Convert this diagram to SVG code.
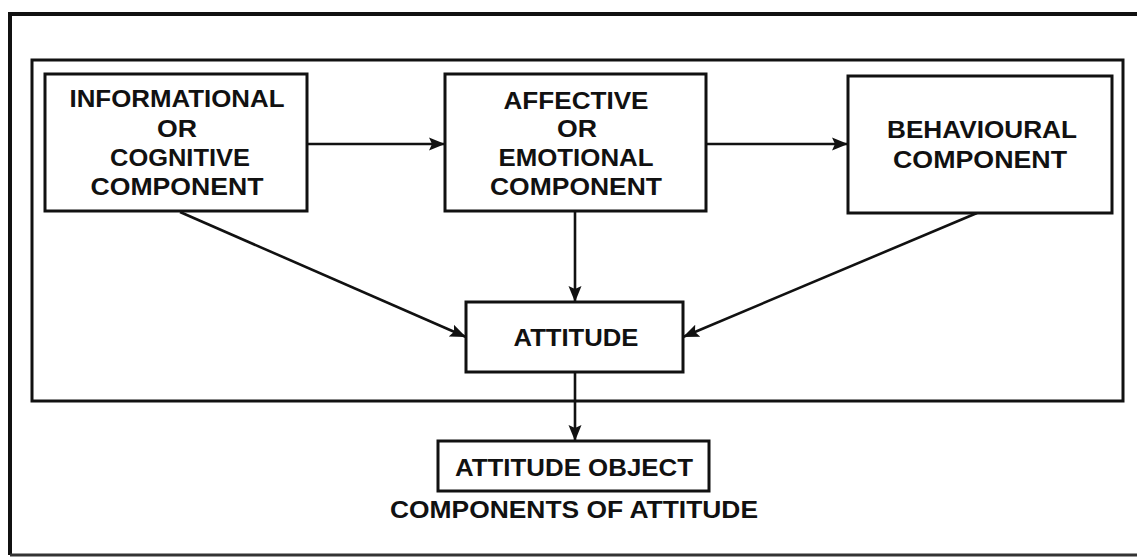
<svg xmlns="http://www.w3.org/2000/svg" width="1137" height="557" viewBox="0 0 1137 557">
<style>
.box{fill:#fff;stroke:#111;stroke-width:3}
.t{font-family:"Liberation Sans",Arial,sans-serif;font-weight:bold;font-size:23px;fill:#111;text-anchor:middle}
.c{stroke:#111;stroke-width:2.6;fill:none;marker-end:url(#ah)}
</style>
<defs>
<marker id="ah" markerUnits="userSpaceOnUse" markerWidth="18" markerHeight="16" refX="16" refY="8" orient="auto">
<path d="M0,1.5 L16,8 L0,14.5 L3,8 Z" fill="#111"/>
</marker>
</defs>
<rect x="0" y="0" width="1137" height="557" fill="#fff"/>
<g id="frame">
<path d="M1137,14 H10 V555" fill="none" stroke="#111" stroke-width="4"/>
<line x1="10" y1="555" x2="1137" y2="555" stroke="#333" stroke-width="3"/>
<rect x="32" y="60" width="1091" height="341" fill="none" stroke="#111" stroke-width="3"/>
</g>
<g id="connectors">
<line class="c" x1="307" y1="144" x2="445" y2="144"/>
<line class="c" x1="706" y1="144" x2="848" y2="144"/>
<line class="c" x1="575" y1="211" x2="575" y2="302"/>
<line class="c" x1="180" y1="212" x2="466" y2="337"/>
<line class="c" x1="977" y1="213" x2="683" y2="337"/>
<line class="c" x1="575" y1="372" x2="575" y2="441"/>
</g>
<g id="informational">
<rect class="box" x="45" y="74" width="262" height="137"/>
<text class="t" x="177" y="107" textLength="215" lengthAdjust="spacingAndGlyphs">INFORMATIONAL</text>
<text class="t" x="177" y="137" textLength="40" lengthAdjust="spacingAndGlyphs">OR</text>
<text class="t" x="180" y="166" textLength="140" lengthAdjust="spacingAndGlyphs">COGNITIVE</text>
<text class="t" x="177" y="195" textLength="173" lengthAdjust="spacingAndGlyphs">COMPONENT</text>
</g>
<g id="affective">
<rect class="box" x="445" y="74" width="261" height="137"/>
<text class="t" x="576" y="109" textLength="145" lengthAdjust="spacingAndGlyphs">AFFECTIVE</text>
<text class="t" x="577" y="137" textLength="40" lengthAdjust="spacingAndGlyphs">OR</text>
<text class="t" x="576" y="166" textLength="155" lengthAdjust="spacingAndGlyphs">EMOTIONAL</text>
<text class="t" x="576" y="195" textLength="172" lengthAdjust="spacingAndGlyphs">COMPONENT</text>
</g>
<g id="behavioural">
<rect class="box" x="848" y="76" width="264" height="137"/>
<text class="t" x="982" y="138" textLength="190" lengthAdjust="spacingAndGlyphs">BEHAVIOURAL</text>
<text class="t" x="980" y="168" textLength="174" lengthAdjust="spacingAndGlyphs">COMPONENT</text>
</g>
<g id="attitude">
<rect class="box" x="466" y="302" width="217" height="70"/>
<text class="t" x="576" y="346" textLength="125" lengthAdjust="spacingAndGlyphs">ATTITUDE</text>
</g>
<g id="attitude-object">
<rect class="box" x="438" y="441" width="271" height="50"/>
<text class="t" x="574" y="476" textLength="238" lengthAdjust="spacingAndGlyphs">ATTITUDE OBJECT</text>
</g>
<g id="caption">
<text class="t" x="574" y="518" textLength="368" lengthAdjust="spacingAndGlyphs">COMPONENTS OF ATTITUDE</text>
</g>
</svg>
